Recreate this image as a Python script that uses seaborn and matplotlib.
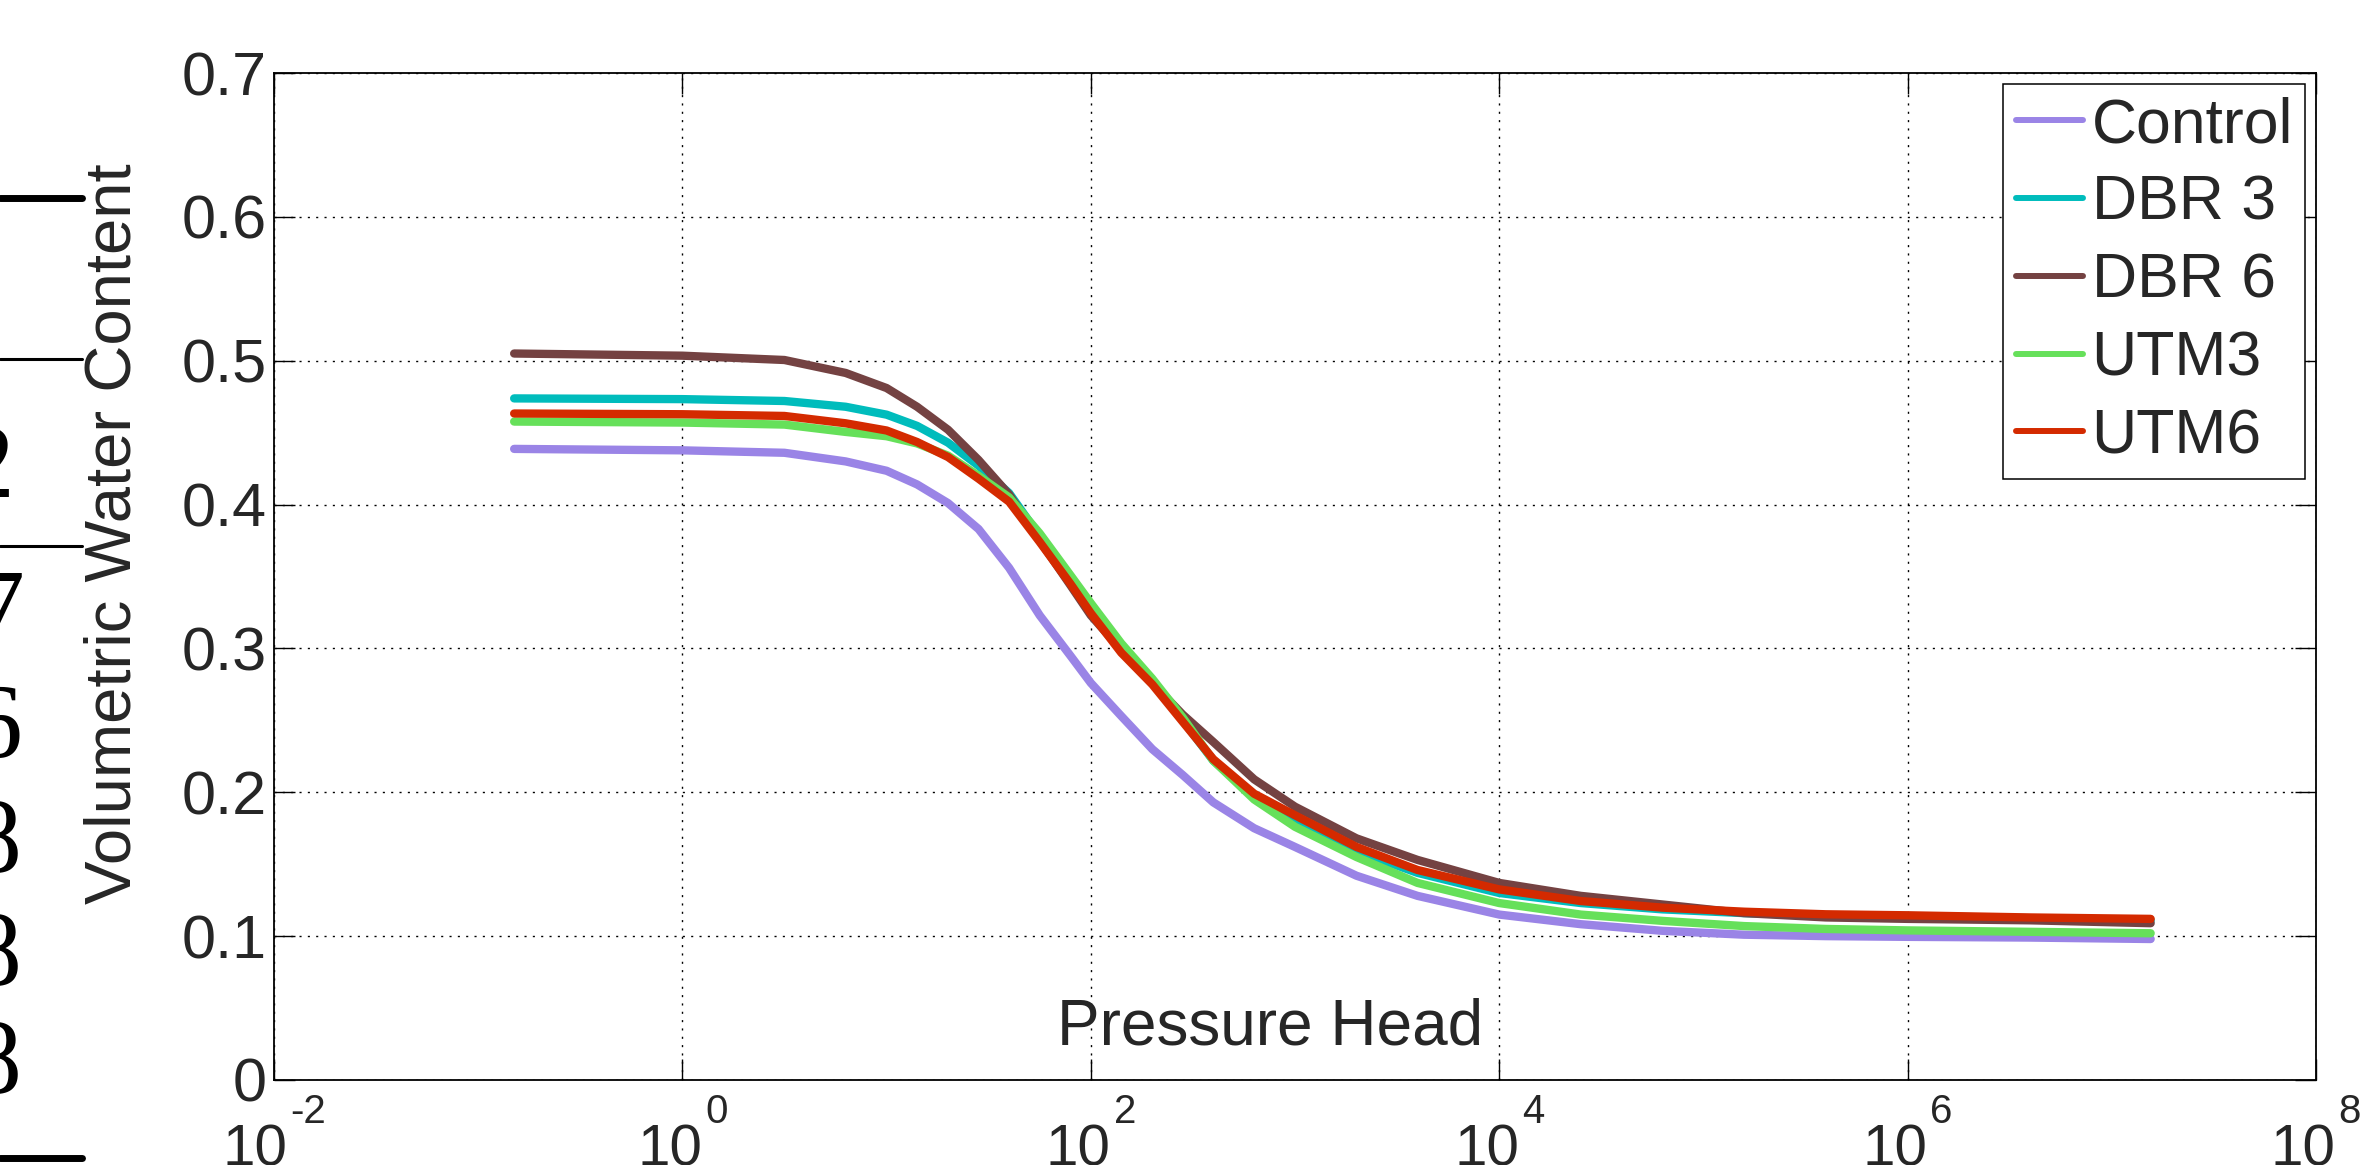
import matplotlib
matplotlib.use('Agg')
import matplotlib.pyplot as plt
from matplotlib.lines import Line2D
from matplotlib.ticker import NullLocator
import pandas as pd
import seaborn as sns

pressure_head = [0.15, 1, 3.16, 6.3, 10, 14.1, 20, 28.2, 39.8, 56.2, 79.4, 100, 141,
                 200, 282, 398, 631, 1e3, 2e3, 3.98e3, 1e4, 2.51e4, 6.31e4, 1.58e5,
                 3.98e5, 1e6, 3.98e6, 1.55e7]

theta_control = [0.4387, 0.4377, 0.436, 0.430, 0.4235, 0.414, 0.401, 0.383, 0.356,
                 0.323, 0.295, 0.276, 0.253, 0.230, 0.212, 0.193, 0.175, 0.162,
                 0.142, 0.128, 0.115, 0.1083, 0.1037, 0.101, 0.100, 0.0995, 0.099,
                 0.098]
theta_dbr3 = [0.4738, 0.4733, 0.472, 0.468, 0.4625, 0.4547, 0.443, 0.427, 0.408,
              0.378, 0.348, 0.328, 0.300, 0.276, 0.250, 0.222, 0.197, 0.180,
              0.159, 0.144, 0.130, 0.123, 0.1186, 0.116, 0.1145, 0.114, 0.1125,
              0.111]
theta_dbr6 = [0.505, 0.5035, 0.5005, 0.4915, 0.481, 0.468, 0.452, 0.431, 0.407,
              0.375, 0.344, 0.323, 0.299, 0.276, 0.254, 0.235, 0.209, 0.190,
              0.168, 0.153, 0.137, 0.128, 0.122, 0.116, 0.113, 0.112, 0.111,
              0.109]
theta_utm3 = [0.4577, 0.457, 0.4556, 0.4505, 0.4475, 0.4425, 0.434, 0.420, 0.405,
              0.380, 0.351, 0.3315, 0.3035, 0.279, 0.252, 0.222, 0.195, 0.176,
              0.155, 0.137, 0.123, 0.115, 0.1106, 0.107, 0.105, 0.104, 0.103,
              0.102]
theta_utm6 = [0.4633, 0.4628, 0.4616, 0.4565, 0.4515, 0.4435, 0.433, 0.418, 0.402,
              0.374, 0.345, 0.3245, 0.297, 0.275, 0.249, 0.223, 0.199, 0.184,
              0.162, 0.146, 0.1325, 0.1244, 0.1198, 0.117, 0.1152, 0.1145, 0.113,
              0.112]

treatments = ['Control', 'DBR 3', 'DBR 6', 'UTM3', 'UTM6']
colors = ['#9a84e6', '#00bcbc', '#744242', '#66e05a', '#d42a00']

xticks = [1e-2, 1e0, 1e2, 1e4, 1e6, 1e8]
xtick_exponents = ['-2', '0', '2', '4', '6', '8']
yticks = [0, 0.1, 0.2, 0.3, 0.4, 0.5, 0.6, 0.7]
ytick_labels = ['0', '0.1', '0.2', '0.3', '0.4', '0.5', '0.6', '0.7']

# bits of the page table that sits behind the figure on the left edge
edge_digits = ['2', '7', '6', '8', '8', '8']

series = [theta_control, theta_dbr3, theta_dbr6, theta_utm3, theta_utm6]
df = pd.concat([pd.DataFrame({'h': pressure_head, 'theta': vals, 'treatment': name})
                for name, vals in zip(treatments, series)], ignore_index=True)

sns.set_style('white')
plt.rcParams['font.family'] = ['Liberation Sans', 'DejaVu Sans']

W, H = 2364, 1165
fig = plt.figure(figsize=(W / 100, H / 100), dpi=100)
ax = fig.add_axes([274 / W, 1 - 1080 / H, (2316 - 274) / W, (1080 - 73) / H])
ax.set_xscale('log')

sns.lineplot(data=df, x='h', y='theta', hue='treatment', hue_order=treatments,
             palette=dict(zip(treatments, colors)), linewidth=6, ax=ax)

ax.set_xlim(1e-2, 1e8)
ax.set_ylim(0, 0.7)
ax.set_xticks(xticks)
ax.set_xticklabels([])
ax.xaxis.set_minor_locator(NullLocator())
ax.set_yticks(yticks)
ax.set_yticklabels(ytick_labels, fontsize=44)

ax.grid(True, which='major', color='black', linestyle=(0, (1.5, 4.5)), linewidth=1)
ax.tick_params(which='major', direction='in', length=15, width=1, color='black',
               top=True, right=True, bottom=True, left=True)
ax.tick_params(axis='y', pad=5)
for sp in ax.spines.values():
    sp.set_color('black')
    sp.set_linewidth(1.3)

# MATLAB style 10^n tick labels: "10" plus a raised exponent
renderer = fig.canvas.get_renderer()
xaxis_tf = ax.get_xaxis_transform()
for tick, expo in zip(xticks, xtick_exponents):
    base = ax.annotate('10', xy=(tick, 0), xycoords=xaxis_tf, xytext=(0, -43),
                       textcoords='offset pixels', ha='right', va='top', fontsize=42,
                       annotation_clip=False)
    sup = ax.annotate(expo, xy=(tick, 0), xycoords=xaxis_tf, xytext=(0, -13),
                      textcoords='offset pixels', ha='left', va='top', fontsize=29,
                      annotation_clip=False)
    bw = base.get_window_extent(renderer).width
    ew = sup.get_window_extent(renderer).width
    right = (bw + 3 + ew) / 2 - 3 - ew
    base.set_position((right, -43))
    sup.set_position((right + 3, -13))

ax.set_xlabel('Pressure Head', fontsize=46)
ax.xaxis.set_label_coords(0.488, 0.082)
ax.set_ylabel('Volumetric Water Content', fontsize=47)
ax.yaxis.set_label_coords(-0.0637, 0.543)

handles, labels = ax.get_legend_handles_labels()
leg = ax.legend(handles, labels, loc='upper right', fontsize=45, frameon=True,
                fancybox=False, edgecolor='black', framealpha=1, borderpad=0.2,
                borderaxespad=0.17, handlelength=1.07, handletextpad=0.14,
                labelspacing=0.3)
leg.get_frame().set_linewidth(1.1)
for ln in leg.get_lines():
    ln.set_linewidth(4.3)

# table rules and digits cut off at the left edge
for y, lw in [(198, 5), (359, 2.2), (546, 2.2), (1158, 5)]:
    fig.add_artist(Line2D([0, 82 / W], [1 - y / H, 1 - y / H],
                          transform=fig.transFigure, color='black', lw=lw))
for d, x, y in zip(edge_digits, [14, 25, 22, 22, 22, 22], [472, 617, 732, 847, 960, 1068]):
    fig.text(x / W, 1 - y / H, d, ha='right', va='center', fontsize=76,
             family='Liberation Serif', color='black')

fig.savefig('out.png', dpi=100)
